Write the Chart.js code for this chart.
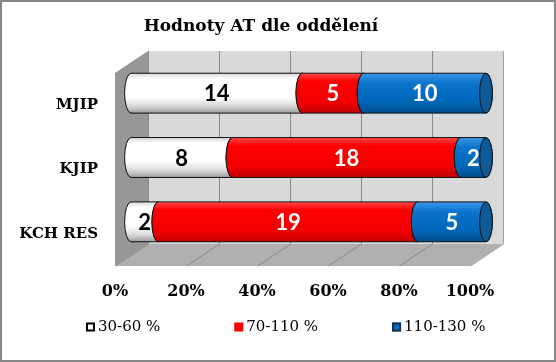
<!DOCTYPE html>
<html>
<head>
<meta charset="utf-8">
<title>Hodnoty AT dle oddělení</title>
<script src="https://cdn.jsdelivr.net/npm/chart.js@4"></script>
<style>
    html, body { margin: 0; padding: 0; background: #ffffff; }
    #wrap { position: relative; width: 556px; height: 362px; }
</style>
</head>
<body>
<div id="wrap"><canvas id="atChart"></canvas></div>
<script>
// Hodnoty AT dle oddělení - 100% stacked bars drawn as 3D cylinders
// ==================================================================

const chartTitle = 'Hodnoty AT dle oddělení';
const categories = ['MJIP', 'KJIP', 'KCH RES'];
const seriesLabels = ['30-60 %', '70-110 %', '110-130 %'];
const lowValues = [14, 8, 2];     // 30-60 %
const midValues = [5, 18, 19];    // 70-110 %
const highValues = [10, 2, 5];    // 110-130 %
const tickValues = [0, 20, 40, 60, 80, 100];

// gradient stops (offset, colour) top -> bottom and end cap colour for each series
const seriesFills = [
    { stops: [[0, '#d6d6d6'], [0.14, '#ffffff'], [0.6, '#ffffff'], [0.82, '#dadada'], [1, '#9c9c9c']], cap: '#e8e8e8', text: '#000000' },
    { stops: [[0, '#ff4a4a'], [0.2, '#ff0000'], [0.75, '#f00000'], [1, '#c00000']], cap: '#c00000', text: '#ffffff' },
    { stops: [[0, '#3a96e6'], [0.25, '#0a74cc'], [0.7, '#0068b8'], [1, '#004c8a']], cap: '#0d5a96', text: '#ffffff' }
];
const legendBoxes = [
    { fill: '#ffffff', stroke: '#000000' },
    { fill: '#ff0000', stroke: null },
    { fill: '#0070c0', stroke: '#1b2f45' }
];

const seriesCounts = [lowValues, midValues, highValues];
const totals = categories.map((c, i) => lowValues[i] + midValues[i] + highValues[i]);
const toPercent = arr => arr.map((v, i) => v / totals[i] * 100);

// 3D depth: back wall offset and the plane the bars sit in
const DEPTH_X = 33, DEPTH_Y = -22;
const BAR_DX = 16, BAR_DY = -12;

const serif = "'DejaVu Serif', serif";

const cylinderPlugin = {
    id: 'cylinders3d',
    beforeDraw(chart) {
        const ctx = chart.ctx;
        ctx.save();
        ctx.fillStyle = '#ffffff';
        ctx.fillRect(0, 0, chart.width, chart.height);
        ctx.strokeStyle = '#878787';
        ctx.lineWidth = 2;
        ctx.strokeRect(1, 1, chart.width - 2, chart.height - 2);
        ctx.restore();
    },
    beforeDatasetsDraw(chart) {
        const ctx = chart.ctx;
        const area = chart.chartArea;
        const xs = chart.scales.x;
        const x0 = xs.getPixelForValue(0), x1 = xs.getPixelForValue(100);
        const top = area.top, bottom = area.bottom;

        ctx.save();
        // back wall
        ctx.fillStyle = '#d9d9d9';
        ctx.fillRect(x0 + DEPTH_X, top + DEPTH_Y, x1 - x0, bottom - top);
        // left side wall
        ctx.fillStyle = '#979797';
        ctx.beginPath();
        ctx.moveTo(x0, top);
        ctx.lineTo(x0 + DEPTH_X, top + DEPTH_Y);
        ctx.lineTo(x0 + DEPTH_X, bottom + DEPTH_Y);
        ctx.lineTo(x0, bottom);
        ctx.closePath();
        ctx.fill();
        // floor
        ctx.fillStyle = '#b0b0b0';
        ctx.beginPath();
        ctx.moveTo(x0, bottom);
        ctx.lineTo(x1, bottom);
        ctx.lineTo(x1 + DEPTH_X, bottom + DEPTH_Y);
        ctx.lineTo(x0 + DEPTH_X, bottom + DEPTH_Y);
        ctx.closePath();
        ctx.fill();
        // grid lines on back wall and floor
        ctx.lineWidth = 1;
        tickValues.forEach(v => {
            const px = Math.round(xs.getPixelForValue(v)) + 0.5;
            ctx.strokeStyle = v === 100 ? '#a0a0a0' : '#8a8a8a';
            ctx.beginPath();
            ctx.moveTo(px + DEPTH_X, top + DEPTH_Y);
            ctx.lineTo(px + DEPTH_X, bottom + DEPTH_Y);
            ctx.lineTo(px, bottom);
            ctx.stroke();
        });

        // cylinders, drawn left to right so each one covers the previous end cap
        const labels = [];
        for (let i = 0; i < seriesCounts.length; i++) {
            const meta = chart.getDatasetMeta(i);
            const fill = seriesFills[i];
            meta.data.forEach((bar, j) => {
                const p = bar.getProps(['x', 'y', 'base', 'height'], true);
                const xl = Math.min(p.base, p.x) + BAR_DX;
                const xr = Math.max(p.base, p.x) + BAR_DX;
                if (xr - xl < 0.5) return;
                const yc = p.y + BAR_DY;
                const ry = p.height / 2, rx = p.height * 0.16;

                const grad = ctx.createLinearGradient(0, yc - ry, 0, yc + ry);
                fill.stops.forEach(s => grad.addColorStop(s[0], s[1]));

                ctx.beginPath();
                ctx.ellipse(xl, yc, rx, ry, 0, -Math.PI / 2, Math.PI / 2, true);
                ctx.lineTo(xr, yc + ry);
                ctx.ellipse(xr, yc, rx, ry, 0, Math.PI / 2, -Math.PI / 2, true);
                ctx.closePath();
                ctx.fillStyle = grad;
                ctx.fill();
                ctx.strokeStyle = '#111111';
                ctx.lineWidth = 1;
                ctx.stroke();

                ctx.beginPath();
                ctx.ellipse(xr, yc, rx, ry, 0, 0, Math.PI * 2);
                ctx.fillStyle = fill.cap;
                ctx.fill();
                ctx.stroke();

                labels.push({ text: String(seriesCounts[i][j]), x: (xl + xr) / 2, y: yc, color: fill.text });
            });
        }

        // data labels
        ctx.font = "bold 22px Lato, 'Open Sans', sans-serif";
        ctx.textAlign = 'center';
        ctx.textBaseline = 'middle';
        labels.forEach(l => {
            ctx.fillStyle = l.color;
            ctx.fillText(l.text, l.x, l.y + 1);
        });
        ctx.restore();
        return false;
    },
    afterDraw(chart) {
        const ctx = chart.ctx;
        ctx.save();
        // title, centred over the plot
        ctx.font = 'bold 17px ' + serif;
        ctx.fillStyle = '#000000';
        ctx.textAlign = 'center';
        ctx.textBaseline = 'middle';
        ctx.fillText(chartTitle, 261, 27);

        // legend row under the axis
        ctx.font = '15px ' + serif;
        ctx.textAlign = 'left';
        let x = 86;
        const y = 327;
        seriesLabels.forEach((label, i) => {
            const box = legendBoxes[i];
            ctx.fillStyle = box.fill;
            ctx.fillRect(x, y - 4.5, 9, 9);
            if (box.stroke) {
                ctx.strokeStyle = box.stroke;
                ctx.lineWidth = 2;
                ctx.strokeRect(x + 1, y - 3.5, 7, 7);
            }
            ctx.fillStyle = '#000000';
            ctx.fillText(label, x + 12, y);
            x += 12 + ctx.measureText(label).width + 74;
        });
        ctx.restore();
    }
};

const chartData = {
    labels: categories,
    datasets: seriesLabels.map((label, i) => ({
        label: label,
        data: toPercent(seriesCounts[i]),
        backgroundColor: legendBoxes[i].fill,
        categoryPercentage: 1,
        barPercentage: 0.62
    }))
};

new Chart(document.getElementById('atChart'), {
    type: 'bar',
    data: chartData,
    options: {
        indexAxis: 'y',
        responsive: true,
        maintainAspectRatio: false,
        animation: false,
        layout: { padding: { left: 0, right: 86, top: 73, bottom: 46 } },
        plugins: {
            legend: { display: false },
            tooltip: { enabled: false },
            title: { display: false }
        },
        scales: {
            x: {
                stacked: true,
                min: 0,
                max: 100,
                afterBuildTicks: scale => { scale.ticks = tickValues.map(v => ({ value: v })); },
                afterFit: scale => { scale.height = 50; },
                grid: { display: false, drawTicks: false },
                border: { display: false },
                ticks: {
                    padding: 16,
                    color: '#000000',
                    font: { family: serif, size: 16, weight: 'bold' },
                    callback: v => v + '%'
                }
            },
            y: {
                stacked: true,
                afterFit: scale => { scale.width = 115; },
                grid: { display: false, drawTicks: false },
                border: { display: false },
                ticks: {
                    padding: 17,
                    color: '#000000',
                    font: { family: serif, size: 15, weight: 'bold' }
                }
            }
        }
    },
    plugins: [cylinderPlugin]
});
</script>
</body>
</html>
